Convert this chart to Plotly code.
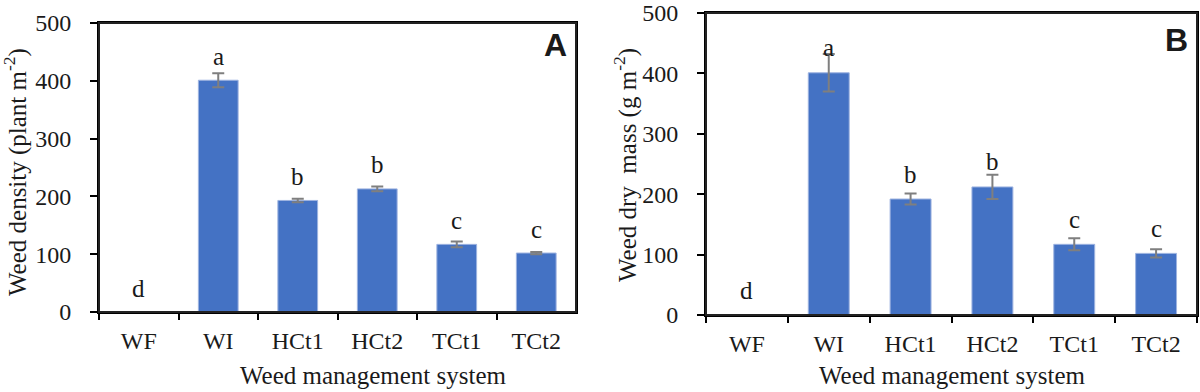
import plotly.graph_objects as go

categories = ["WF", "WI", "HCt1", "HCt2", "TCt1", "TCt2"]
density = [0, 401, 193, 213, 117, 102]
density_err = [0, 12, 3, 4, 5, 2]
drymass = [0, 401, 192, 212, 117, 102]
drymass_err = [0, 31, 9, 20, 10, 7]
letters_density = ["d", "a", "b", "b", "c", "c"]
letters_drymass = ["d", "a", "b", "b", "c", "c"]
y_ticks = [0, 100, 200, 300, 400, 500]

SERIF = "Liberation Serif, Times New Roman, serif"
TXT = "#1a1a1a"
BAR = "#4472C4"
EDGE = "#9db3e0"
ERR = "#7f7f7f"

fig = go.Figure()

for vals, errs, xa, ya in [(density, density_err, "x", "y"), (drymass, drymass_err, "x2", "y2")]:
    fig.add_trace(go.Bar(
        x=categories, y=vals, xaxis=xa, yaxis=ya,
        marker=dict(color=BAR, line=dict(color=EDGE, width=1)),
        error_y=dict(type="data", array=errs, color=ERR, thickness=2, width=6),
        showlegend=False, hoverinfo="x+y",
    ))

axis_common = dict(
    showline=True, linecolor="black", linewidth=2, mirror=True,
    showgrid=False, zeroline=False, automargin=False,
    tickfont=dict(family=SERIF, size=24, color=TXT),
)

fig.update_layout(
    template="none",
    width=1200, height=392,
    margin=dict(l=0, r=0, t=0, b=0, pad=0),
    paper_bgcolor="white", plot_bgcolor="white",
    bargap=0.5,
    xaxis=dict(domain=[99/1200, 576/1200], anchor="y", type="category",
               tickson="boundaries", ticks="outside", ticklen=6, tickwidth=2,
               tickcolor="black", ticklabelstandoff=6, **axis_common),
    yaxis=dict(domain=[1-312/392, 1-23/392], anchor="x", range=[0, 500],
               tickvals=y_ticks, ticks="outside", ticklen=7, tickwidth=2,
               tickcolor="black", ticklabelstandoff=14, **axis_common),
    xaxis2=dict(domain=[706/1200, 1197/1200], anchor="y2", type="category",
                tickson="boundaries", ticks="outside", ticklen=6, tickwidth=2,
                tickcolor="black", ticklabelstandoff=6, **axis_common),
    yaxis2=dict(domain=[1-315/392, 1-13/392], anchor="x2", range=[0, 500],
                tickvals=y_ticks, ticks="outside", ticklen=7, tickwidth=2,
                tickcolor="black", ticklabelstandoff=14, **axis_common),
)

# frame boxes around each plot area
for xr, yr in [("x domain", "y domain"), ("x2 domain", "y2 domain")]:
    fig.add_shape(type="rect", xref=xr, yref=yr, x0=0, x1=1, y0=0, y1=1,
                  line=dict(color="#222222", width=2), layer="above")

ann = []
for cat, v, l in zip(categories, density, letters_density):
    ann.append(dict(x=cat, y=v, xref="x", yref="y", text=l, showarrow=False,
                    yanchor="middle", yshift=24,
                    font=dict(family=SERIF, size=25, color=TXT)))
for cat, v, l in zip(categories, drymass, letters_drymass):
    ann.append(dict(x=cat, y=v, xref="x2", yref="y2", text=l, showarrow=False,
                    yanchor="middle", yshift=25,
                    font=dict(family=SERIF, size=25, color=TXT)))

title_font = dict(family=SERIF, size=25, color=TXT)
ann += [
    dict(x=373/1200, y=1-375/392, xref="paper", yref="paper", showarrow=False,
         text="Weed management system", font=title_font, xanchor="center", yanchor="middle"),
    dict(x=952/1200, y=1-375/392, xref="paper", yref="paper", showarrow=False,
         text="Weed management system", font=title_font, xanchor="center", yanchor="middle"),
    dict(x=16/1200, y=1-172/392, xref="paper", yref="paper", showarrow=False, textangle=-90,
         text="Weed density (plant m<sup>-2</sup>)", font=title_font, xanchor="center", yanchor="middle"),
    dict(x=625/1200, y=1-165/392, xref="paper", yref="paper", showarrow=False, textangle=-90,
         text="Weed dry&nbsp; mass (g m<sup>-2</sup>)", font=title_font, xanchor="center", yanchor="middle"),
    dict(x=555/1200, y=1-45/392, xref="paper", yref="paper", showarrow=False,
         text="<b>A</b>", font=dict(family="Liberation Sans, Arial, sans-serif", size=32, color=TXT),
         xanchor="center", yanchor="middle"),
    dict(x=1176/1200, y=1-40/392, xref="paper", yref="paper", showarrow=False,
         text="<b>B</b>", font=dict(family="Liberation Sans, Arial, sans-serif", size=32, color=TXT),
         xanchor="center", yanchor="middle"),
]
fig.update_layout(annotations=ann)

fig.write_html(
    "out.html",
    config={"displayModeBar": False},
    post_script="document.body.style.margin='0';document.body.style.overflow='hidden';",
)
